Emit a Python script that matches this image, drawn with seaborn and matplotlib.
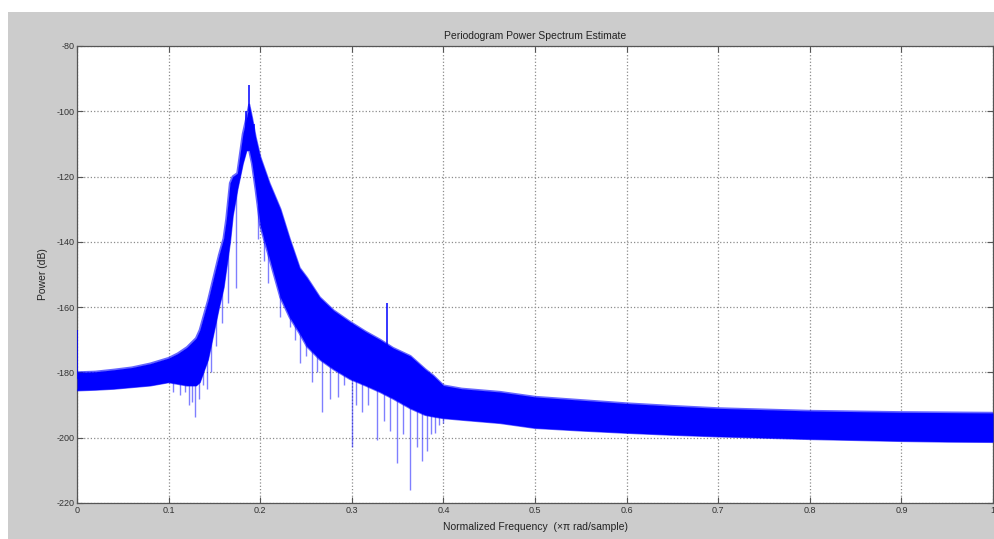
import numpy as np
import pandas as pd
import matplotlib.pyplot as plt
import seaborn as sns
from matplotlib.patches import Rectangle

# envelope of the periodogram band (normalized freq, dB)
freq = [0, 0.02, 0.04, 0.06, 0.08, 0.10, 0.11, 0.12, 0.13, 0.134, 0.143, 0.149,
        0.155, 0.160, 0.163, 0.167, 0.170, 0.175, 0.181, 0.185, 0.188, 0.191,
        0.195, 0.200, 0.210, 0.222, 0.232, 0.243, 0.251, 0.265, 0.280, 0.298,
        0.315, 0.331, 0.345, 0.364, 0.380, 0.389, 0.400, 0.420, 0.462, 0.50,
        0.55, 0.60, 0.65, 0.70, 0.75, 0.80, 0.85, 0.90, 0.95, 1.00]
upper_db = [-180, -179.8, -179.2, -178.5, -177.3, -175.6, -174.2, -172.3, -169.5,
            -167, -158, -151, -144, -139, -133, -122, -120, -119, -107, -102, -98,
            -102, -108, -114, -122, -130, -139, -148, -151, -157, -161, -164.5,
            -167.5, -170, -172.5, -175, -179, -181, -184, -185, -186, -187.5,
            -188.5, -189.5, -190.3, -191, -191.4, -191.8, -192, -192.2, -192.3, -192.4]
lower_db = [-185.5, -185.3, -185, -184.5, -184, -183, -183.5, -184, -184, -183,
            -176, -168, -160, -154, -148, -140, -132, -124, -116, -112, -112, -116,
            -124, -135, -145, -157, -163, -168, -172, -176, -179, -182, -184, -186,
            -188, -191, -193, -193.5, -194, -194.5, -195.5, -197, -197.8, -198.5,
            -199.1, -199.6, -200, -200.4, -200.7, -201, -201.2, -201.3]

# deep downward spikes
dip_freq = [0.105, 0.112, 0.118, 0.122, 0.126, 0.129, 0.133, 0.138, 0.142, 0.146,
            0.152, 0.158, 0.165, 0.174, 0.198, 0.204, 0.209, 0.216, 0.222, 0.227,
            0.232, 0.238, 0.243, 0.250, 0.257, 0.262, 0.267, 0.276, 0.285, 0.292,
            0.300, 0.305, 0.311, 0.318, 0.327, 0.335, 0.342, 0.349, 0.356, 0.364,
            0.371, 0.377, 0.382, 0.386, 0.391, 0.395, 0.400, 0.405]
dip_db = [-186, -187, -186, -190, -189, -193.6, -188, -184, -185, -180,
          -172, -165, -158.7, -154, -139, -146, -152.6, -150, -163, -160,
          -166, -170, -177, -175, -183, -180, -192, -188, -187.5, -184,
          -203, -190, -192, -190, -200.7, -195, -198, -207.7, -199, -216,
          -203, -207, -204, -199, -198.5, -196, -195.5, -193]

# upward spikes
peak_freq = [0.0, 0.184, 0.188, 0.193, 0.338]
peak_db = [-167, -100, -92, -104, -158.7]

sns.set_style("whitegrid")
plt.rcParams['font.family'] = ['Liberation Sans', 'DejaVu Sans']
plt.rcParams['axes.unicode_minus'] = False

fig = plt.figure(figsize=(9.95, 5.39), dpi=100)
fig.patch.set_facecolor("#cccccc")
# white margin strip on top / left like the screenshot
fig.patches.append(Rectangle((0, 0.978), 1, 0.03, transform=fig.transFigure,
                             facecolor="white", edgecolor="none", zorder=-1))
fig.patches.append(Rectangle((0, 0), 0.008, 1, transform=fig.transFigure,
                             facecolor="white", edgecolor="none", zorder=-1))

ax = fig.add_axes([0.0774, 0.0668, 0.9206, 0.848])
ax.set_facecolor("white")

blue = "#0000ff"
env = pd.DataFrame({"freq": freq, "upper": upper_db, "lower": lower_db})
ax.fill_between(env["freq"], env["lower"], env["upper"], color=blue, lw=0, zorder=3)
sns.lineplot(data=env, x="freq", y="upper", color=blue, lw=1.6, alpha=0.6, ax=ax, zorder=3)
sns.lineplot(data=env, x="freq", y="lower", color=blue, lw=1.6, alpha=0.6, ax=ax, zorder=3)

dip_top = np.interp(dip_freq, freq, lower_db) + 2
ax.vlines(dip_freq, dip_db, dip_top, color=blue, lw=1.0, alpha=0.5, zorder=2)
peak_base = np.interp(peak_freq, freq, upper_db) - 2
ax.vlines(peak_freq, peak_base, peak_db, color=blue, lw=1.1, zorder=3)

ax.set_xlim(0, 1)
ax.set_ylim(-220, -80)
ax.set_xticks(np.arange(0, 1.01, 0.1))
ax.set_xticklabels(["0", "0.1", "0.2", "0.3", "0.4", "0.5", "0.6", "0.7", "0.8", "0.9", "1"])
ax.set_yticks(np.arange(-220, -79, 20))

ax.grid(True, color="#8c8c8c", linestyle=":", linewidth=0.9)
for s in ax.spines.values():
    s.set_visible(True)
    s.set_color("#555555")
    s.set_linewidth(0.9)
ax.tick_params(direction="in", length=4, width=0.8, color="#555555",
               labelsize=6.5, labelcolor="#333333", top=True, right=True,
               bottom=True, left=True, pad=2)

ax.set_title("Periodogram Power Spectrum Estimate", fontsize=7.5, color="#222222", pad=5)
ax.set_xlabel("Normalized Frequency  (×π rad/sample)", fontsize=7.5, color="#222222", labelpad=5)
ax.set_ylabel("Power (dB)", fontsize=7.5, color="#222222", labelpad=6)

fig.savefig("out.png", dpi=100, facecolor=fig.get_facecolor())
